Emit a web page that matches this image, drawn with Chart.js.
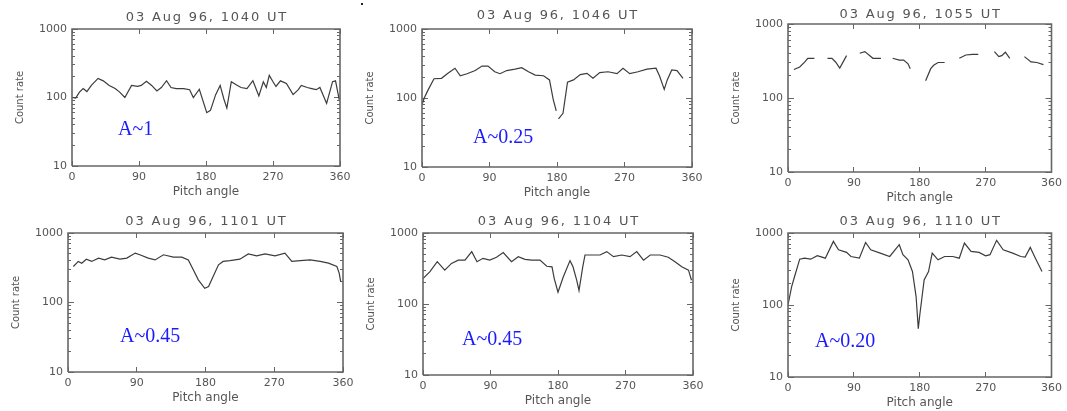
<!DOCTYPE html>
<html>
<head>
<meta charset="utf-8">
<script src="https://cdn.jsdelivr.net/npm/chart.js@4.4.0/dist/chart.umd.min.js"></script>
<style>
  html, body { margin: 0; padding: 0; background: #fff; overflow: hidden; width: 1067px; height: 411px; }
  canvas { position: absolute; }
  .amp { position: absolute; font: 20px 'Liberation Serif', 'Times New Roman', serif; color: #1a1aff; line-height: 20px; white-space: nowrap; }
  .speck { position: absolute; left: 361px; top: 3px; width: 2px; height: 2px; background: #222; }
</style>
</head>
<body>
<div class="speck"></div>
<script>
// Panel titles and amplitude notes
const titles = ['03 Aug 96, 1040 UT', '03 Aug 96, 1046 UT', '03 Aug 96, 1055 UT',
  '03 Aug 96, 1101 UT', '03 Aug 96, 1104 UT', '03 Aug 96, 1110 UT'];
const ampLabels = ['A~1', 'A~0.25', '', 'A~0.45', 'A~0.45', 'A~0.20'];
const xTicks = [0, 90, 180, 270, 360];
const yTicks = [10, 100, 1000];
const yMinorTicks = [20, 30, 40, 50, 60, 70, 80, 90, 200, 300, 400, 500, 600, 700, 800, 900];

// 1040 UT
const angles1 = [0, 5, 10, 15, 20, 26, 35, 42, 50, 58, 64, 71, 80, 88, 93, 100, 107, 114, 120, 127, 133, 140, 150, 158, 163, 171, 181, 186, 193, 199, 204, 208, 214, 220, 227, 235, 243, 251, 257, 261, 265, 270, 274, 280, 288, 297, 304, 308, 316, 322, 328, 333, 342, 350, 354, 359];
const counts1 = [100, 98, 120, 135, 122, 150, 190, 175, 150, 135, 120, 100, 150, 145, 150, 172, 150, 125, 140, 176, 140, 135, 135, 130, 100, 132, 60, 65, 110, 150, 95, 70, 170, 155, 140, 135, 176, 105, 170, 140, 210, 170, 145, 175, 160, 110, 130, 150, 140, 135, 130, 140, 82, 170, 175, 92];
// 1046 UT
const angles2 = [0, 3, 8, 16, 26, 35, 44, 51, 60, 71, 80, 88, 97, 104, 113, 124, 133, 142, 151, 162, 170, 175, 179, 180.5, 182, 188, 194, 202, 211, 220, 228, 237, 248, 260, 268, 277, 288, 300, 312, 317, 323, 327, 333, 340, 348];
const counts2 = [80, 100, 130, 190, 193, 230, 270, 210, 225, 250, 290, 290, 240, 225, 250, 262, 275, 240, 215, 210, 183, 95, 65, null, 50, 60, 170, 183, 218, 228, 193, 233, 240, 225, 270, 225, 240, 262, 270, 205, 133, 183, 255, 250, 193];
// 1055 UT (broken trace)
const angles3 = [8, 16, 23, 27, 36, 45, 54, 60, 65, 70.7, 80, 89, 98, 105, 116, 127, 135, 143, 152, 158, 164, 167, 178, 188, 195, 199, 205, 214, 224, 234, 243, 252, 260, 270, 282, 288, 292, 297, 303, 313, 323, 332, 340, 349];
const counts3 = [243, 262, 307, 344, 344, null, 344, 344, 307, 254, 374, null, 402, 424, 344, 344, null, 344, 325, 325, 290, 249, null, 171, 249, 277, 302, 302, null, 344, 381, 389, 389, null, 424, 362, 374, 415, 344, null, 362, 307, 302, 283];
// 1101 UT
const angles4 = [7, 13.5, 18, 24, 31, 40, 48, 57, 68, 77, 88, 94, 105, 114, 125, 138, 149, 157.5, 164, 170.6, 179, 184, 190, 197, 203, 212, 225, 236, 247, 258, 271, 284, 293, 304, 317, 330, 341, 352, 355, 357];
const counts4 = [330, 390, 368, 420, 390, 435, 410, 450, 420, 435, 514, 486, 435, 410, 486, 450, 450, 410, 295, 212, 160, 170, 236, 348, 390, 400, 420, 500, 470, 500, 470, 514, 390, 400, 410, 390, 368, 330, 265, 200];
// 1104 UT
const angles5 = [0, 9, 19, 29, 38, 47, 56, 65, 72, 80, 89, 98, 107, 118, 127, 136, 145, 156, 165, 172, 175, 180, 187, 196, 200, 205, 208, 213, 216, 227, 236, 245, 254, 265, 276, 285, 294, 303, 316, 327, 336, 345, 354, 358];
const counts5 = [228, 283, 394, 300, 373, 415, 415, 547, 394, 440, 415, 455, 530, 394, 464, 425, 415, 415, 340, 334, 228, 147, 240, 408, 334, 215, 155, 334, 490, 490, 490, 547, 464, 490, 464, 547, 415, 490, 490, 455, 394, 334, 300, 216];
// 1110 UT
const angles6 = [0, 5, 9, 16, 22.5, 31, 40, 51, 62, 69, 80, 86, 97.5, 106, 113, 126, 139, 152, 157, 164, 170, 175, 178, 180, 186, 192, 197, 205, 214, 225, 234, 241, 250, 261, 270, 276, 285, 294, 307, 318, 324, 331, 338, 347];
const counts6 = [100, 180, 249, 433, 447, 433, 483, 447, 765, 585, 538, 472, 447, 740, 585, 525, 472, 687, 500, 424, 292, 131, 47, 72, 223, 292, 525, 424, 472, 472, 447, 725, 555, 538, 483, 500, 790, 585, 525, 472, 463, 630, 447, 292];

const angleSets = [angles1, angles2, angles3, angles4, angles5, angles6];
const countSets = [counts1, counts2, counts3, counts4, counts5, counts6];

// plot boxes on the page (left, top, right, bottom), title line and note position
const boxes = [
  { l: 72, t: 29, r: 340, b: 166, titleY: 18, ampX: 118, ampY: 128 },
  { l: 422, t: 29, r: 692, b: 167, titleY: 16, ampX: 473, ampY: 136 },
  { l: 788, t: 24, r: 1058, b: 172, titleY: 15 },
  { l: 68, t: 233, r: 343, b: 372, titleY: 222, ampX: 120, ampY: 335 },
  { l: 423, t: 233, r: 693, b: 375, titleY: 222, ampX: 462, ampY: 338 },
  { l: 788, t: 233, r: 1060, b: 377, titleY: 222, ampX: 815, ampY: 340 },
];

const TEXT = '#555';
const FRAME = '#666';
const FONT = 'DejaVu Sans';
const PAD_L = 70, PAD_T = 30, PAD_B = 40;

// axis limits, used for the plot frame
const X_MIN = xTicks[0], X_MAX = xTicks[xTicks.length - 1];
const Y_MIN = yTicks[0], Y_MAX = yTicks[yTicks.length - 1];

// panel title, drawn a little spaced like the IDL vector font
const idlTitle = {
  id: 'idlTitle',
  afterDraw(chart, args, opts) {
    const { ctx, chartArea: a } = chart;
    ctx.save();
    ctx.fillStyle = TEXT;
    ctx.font = `13px "${FONT}"`;
    ctx.textAlign = 'left';
    ctx.textBaseline = 'middle';
    const gap = 1.8;
    const chars = [...opts.text];
    const total = chars.reduce((s, c) => s + ctx.measureText(c).width + gap, -gap);
    let cx = (a.left + a.right) / 2 - total / 2;
    chars.forEach(c => {
      ctx.fillText(c, cx, opts.y);
      cx += ctx.measureText(c).width + gap;
    });
    ctx.restore();
  }
};

// an axis that only draws inward tick marks
function tickAxis(type, position, values, len) {
  const horizontal = position === 'top' || position === 'bottom';
  return {
    type, position, weight: 0,
    min: horizontal ? X_MIN : Y_MIN, max: horizontal ? X_MAX : Y_MAX,
    afterBuildTicks: s => { s.ticks = values.map(v => ({ value: v })); },
    afterFit: s => { if (horizontal) s.height = 0; else s.width = 0; },
    grid: { display: true, drawOnChartArea: false, drawTicks: true, tickLength: -len, tickColor: FRAME, tickWidth: 1 },
    border: { display: false },
    ticks: { display: false, padding: 0 },
  };
}

boxes.forEach((bx, i) => {
  const padR = Math.min(16, 1067 - bx.r);
  const canvas = document.createElement('canvas');
  const w = bx.r - bx.l + PAD_L + padR;
  const h = bx.b - bx.t + PAD_T + PAD_B;
  const left = bx.l - PAD_L, top = bx.t - PAD_T;
  canvas.width = w;
  canvas.height = h;
  canvas.style.left = left + 'px';
  canvas.style.top = top + 'px';
  canvas.style.width = w + 'px';
  canvas.style.height = h + 'px';
  document.body.appendChild(canvas);

  const points = angleSets[i].map((a, k) => ({ x: a, y: countSets[i][k] }));
  // closed outline along the axis limits, drawn through the same scales
  const outline = [
    { x: X_MIN, y: Y_MIN }, { x: X_MAX, y: Y_MIN }, { x: X_MAX, y: Y_MAX },
    { x: X_MIN, y: Y_MAX }, { x: X_MIN, y: Y_MIN },
  ];

  new Chart(canvas, {
    type: 'line',
    data: {
      datasets: [
        {
          data: points,
          borderColor: '#3c3c3c',
          borderWidth: 1.2,
          pointRadius: 0,
          tension: 0,
          spanGaps: false,
        },
        {
          data: outline,
          borderColor: FRAME,
          borderWidth: 1.6,
          pointRadius: 0,
          tension: 0,
          clip: false,
          borderJoinStyle: 'miter',
          order: -1,
        },
      ],
    },
    options: {
      responsive: false,
      animation: false,
      events: [],
      devicePixelRatio: 1,
      layout: { padding: { top: PAD_T, right: padR, left: 0, bottom: 0 } },
      plugins: {
        legend: { display: false },
        tooltip: { enabled: false },
        idlTitle: { text: titles[i], y: bx.titleY - top },
      },
      scales: {
        x: {
          type: 'linear', min: X_MIN, max: X_MAX, weight: 1,
          afterBuildTicks: s => { s.ticks = xTicks.map(v => ({ value: v })); },
          afterFit: s => { s.height = PAD_B; },
          grid: { display: false, drawTicks: false },
          border: { display: false },
          ticks: { color: TEXT, font: { family: FONT, size: 11 }, padding: 5, maxRotation: 0, autoSkip: false },
          title: { display: true, text: 'Pitch angle', color: TEXT, font: { family: FONT, size: 12 }, padding: { top: 0, bottom: 6.8 } },
        },
        y: {
          type: 'logarithmic', min: Y_MIN, max: Y_MAX, weight: 1,
          afterBuildTicks: s => { s.ticks = yTicks.map(v => ({ value: v })); },
          afterFit: s => { s.width = PAD_L; },
          grid: { display: false, drawTicks: false },
          border: { display: false },
          ticks: { color: TEXT, font: { family: FONT, size: 11 }, padding: 5, callback: v => String(v) },
          title: { display: true, text: 'Count rate', color: TEXT, font: { family: FONT, size: 10 }, padding: { top: 12, bottom: 0 } },
        },
        xBottomTicks: tickAxis('linear', 'bottom', xTicks, 5),
        xTopTicks: tickAxis('linear', 'top', xTicks, 5),
        yLeftTicks: tickAxis('logarithmic', 'left', yTicks, 6),
        yLeftMinor: tickAxis('logarithmic', 'left', yMinorTicks, 3),
        yRightTicks: tickAxis('logarithmic', 'right', yTicks, 6),
        yRightMinor: tickAxis('logarithmic', 'right', yMinorTicks, 3),
      },
    },
    plugins: [idlTitle],
  });

  if (ampLabels[i]) {
    const note = document.createElement('div');
    note.className = 'amp';
    note.textContent = ampLabels[i];
    note.style.left = bx.ampX + 'px';
    note.style.top = (bx.ampY - 10) + 'px';
    document.body.appendChild(note);
  }
});
</script>
</body>
</html>
